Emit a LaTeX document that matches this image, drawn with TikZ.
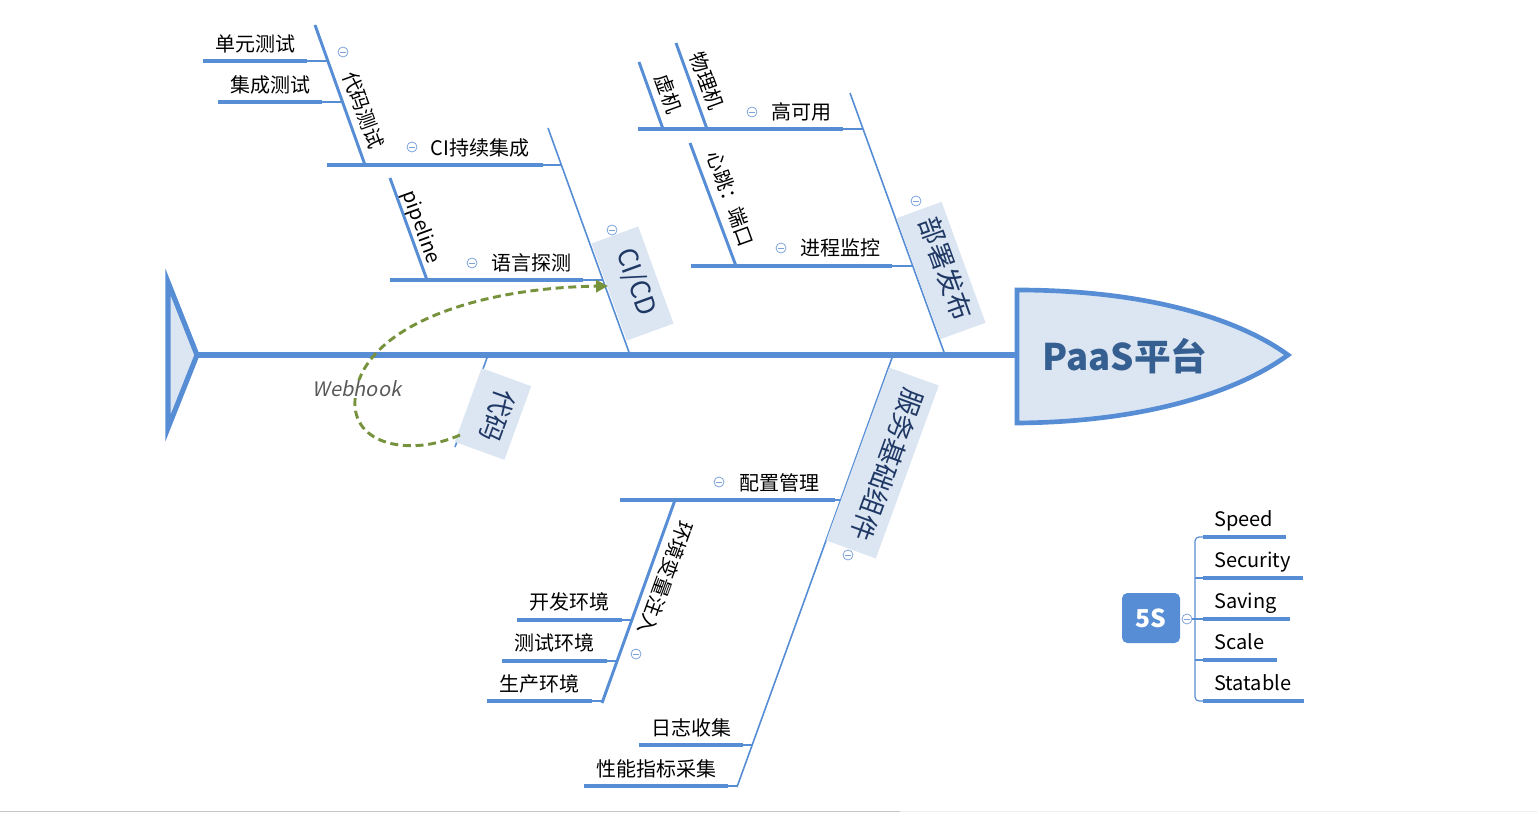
\documentclass[tikz,border=0pt]{standalone}
\usepackage{fontspec}
\setmainfont{Noto Sans CJK SC}
\newfontfamily\whfont{Noto Sans CJK SC}[FakeSlant=0.2]
\usetikzlibrary{arrows.meta}
\definecolor{bl}{RGB}{86,141,212}
\definecolor{lbl}{RGB}{220,230,242}
\definecolor{tbl}{RGB}{31,56,100}
\definecolor{cbl}{RGB}{125,162,218}
\definecolor{grn}{RGB}{118,146,60}
\definecolor{hd}{RGB}{54,95,145}
\tikzset{
  spine/.style={bl, line width=3.8pt},
  mainbone/.style={bl, line width=1.2pt},
  subbone/.style={bl, line width=2.2pt},
  itemline/.style={bl, line width=2.3pt},
  conn/.style={bl, line width=0.8pt},
  lbl/.style={font=\fontsize{15pt}{17pt}\selectfont, text=black, inner sep=0pt, text height=0.85em, text depth=0.15em},
  hlbl/.style={lbl, yshift=-2.4pt},
  catbox/.style={fill=lbl, text=tbl, font=\fontsize{20pt}{22pt}\selectfont, inner sep=0pt, text height=0.85em, text depth=0.15em},
  collapse/.style={circle, draw=cbl, line width=0.6pt, minimum size=7.5pt, inner sep=0pt,
    path picture={\draw[cbl, line width=0.6pt] ([xshift=-2pt]path picture bounding box.center) -- ([xshift=2pt]path picture bounding box.center);}},
}
\begin{document}
\begin{tikzpicture}[x=0.75pt, y=-0.75pt]
\path[use as bounding box] (0,0) rectangle (1537,813);
% bottom gray rule
\draw[black!22, line width=1.2pt] (0,811.5) -- (900,811.5);
\draw[black!7, line width=1.2pt] (900,811.5) -- (1537,811.5);

% ---------- spine ----------
\coordinate (tailtip) at (197,355);
\coordinate (headL) at (1017,355);
\draw[spine] (tailtip) -- (headL);
\draw[bl, fill=lbl, line width=3.8pt] (168,282) -- (tailtip) -- (168,428) -- cycle;
\draw[bl, fill=lbl, line width=3.5pt] (1017,290) .. controls (1150,290) and (1240,320) .. (1288,355)
   .. controls (1240,390) and (1150,422) .. (1017,423) -- cycle;
\node[text=hd, font=\fontsize{27.5pt}{30pt}\selectfont\bfseries, inner sep=0pt] (head) at (1125,356) {PaaS平台};

% ---------- main bones ----------
\coordinate (cicdS) at (630,355);  \coordinate (cicdE) at (548,128);
\coordinate (bsS) at (945,355);    \coordinate (bsE) at (850,93);
\coordinate (fwS) at (893,355);    \coordinate (fwE) at (737,787);
\coordinate (dmS) at (488,355);    \coordinate (dmE) at (455,447);
\draw[mainbone] (cicdS) -- (cicdE);
\draw[mainbone] (bsS) -- (bsE);
\draw[mainbone] (fwS) -- (fwE);
\draw[mainbone] (dmS) -- (dmE);

\node[catbox, rotate=-70, minimum width=77.5pt, minimum height=37.3pt] (cicd) at (632.5,283.5) {CI/CD};
\node[catbox, rotate=-70, minimum width=96.5pt, minimum height=36pt] (bs) at (941,270.5) {部署发布};
\node[catbox, rotate=-110, minimum width=138pt, minimum height=39.6pt] (fw) at (882.5,463) {服务基础组件};
\node[catbox, rotate=-110, minimum width=58.8pt, minimum height=39.6pt] (dm) at (493,414) {代码};

% ---------- CI/CD branch ----------
\coordinate (ciL) at (327,165); \coordinate (ciR) at (543,165); \coordinate (ciB) at (561,165);
\draw[itemline] (ciL) -- (ciR); \draw[conn] (ciR) -- (ciB);
\node[hlbl] (ci) at (480,148) {CI持续集成};
\coordinate (dcS) at (365,165); \coordinate (dcE) at (315,25);
\draw[subbone] (dcS) -- (dcE);
\node[lbl, rotate=-70] (dc) at (361,111) {代码测试};
\draw[itemline] (203,61) coordinate (u1) -- (307,61) coordinate (u2); \draw[conn] (u2) -- (327,61);
\node[hlbl] (dy) at (255,44) {单元测试};
\draw[itemline] (218,102) coordinate (j1) -- (322,102) coordinate (j2); \draw[conn] (j2) -- (342,102);
\node[hlbl] (jc) at (270,85) {集成测试};

\coordinate (yyL) at (390,280); \coordinate (yyR) at (583,280); \coordinate (yyB) at (603,280);
\draw[itemline] (yyL) -- (yyR); \draw[conn] (yyR) -- (yyB);
\node[hlbl] (yy) at (531,263) {语言探测};
\coordinate (ppS) at (427,280); \coordinate (ppE) at (390,178);
\draw[subbone] (ppS) -- (ppE);
\node[lbl, rotate=-70] (pp) at (420,228) {pipeline};

% ---------- 部署发布 branch ----------
\coordinate (gkL) at (638,129); \coordinate (gkR) at (843,129); \coordinate (gkB) at (863,129);
\draw[itemline] (gkL) -- (gkR); \draw[conn] (gkR) -- (gkB);
\node[hlbl] (gk) at (801,112) {高可用};
\coordinate (xjS) at (663,129); \coordinate (xjE) at (639,62);
\draw[subbone] (xjS) -- (xjE);
\node[lbl, rotate=-70] (xj) at (666,95) {虚机};
\coordinate (wlS) at (707,129); \coordinate (wlE) at (676,43);
\draw[subbone] (wlS) -- (wlE);
\node[lbl, rotate=-70] (wl) at (704,82) {物理机};

\coordinate (jcL) at (691,266); \coordinate (jcR) at (892,266); \coordinate (jcB) at (912,266);
\draw[itemline] (jcL) -- (jcR); \draw[conn] (jcR) -- (jcB);
\node[hlbl] (jk) at (840,248) {进程监控};
\coordinate (xtS) at (736,266); \coordinate (xtE) at (690,143);
\draw[subbone] (xtS) -- (xtE);
\node[lbl, rotate=-70] (xt) at (728,200) {心跳：端口};

% ---------- 服务基础组件 branch ----------
\coordinate (pzL) at (620,500); \coordinate (pzR) at (835,500); \coordinate (pzB) at (840.5,500);
\draw[itemline] (pzL) -- (pzR); \draw[conn] (pzR) -- (pzB);
\node[hlbl] (pz) at (779,483) {配置管理};
\coordinate (hjS) at (675,500); \coordinate (hjE) at (602,703);
\draw[subbone] (hjS) -- (hjE);
\node[lbl, rotate=-110] (hj) at (663,577) {环境变量注入};
\draw[itemline] (517,620) coordinate (k1) -- (622,620) coordinate (k2); \draw[conn] (k2) -- (632,620);
\node[hlbl] (kf) at (569,602) {开发环境};
\draw[itemline] (502,661) coordinate (c1) -- (607,661) coordinate (c2); \draw[conn] (c2) -- (617,661);
\node[hlbl] (cs) at (554,643) {测试环境};
\draw[itemline] (487,701) coordinate (s1) -- (592,701) coordinate (s2); \draw[conn] (s2) -- (603,701);
\node[hlbl] (sc) at (539,684) {生产环境};

\draw[itemline] (639,745) coordinate (r1) -- (743,745) coordinate (r2); \draw[conn] (r2) -- (751.5,745);
\node[hlbl] (rz) at (691,728) {日志收集};
\draw[itemline] (584,786) coordinate (x1) -- (728,786) coordinate (x2); \draw[conn] (x2) -- (737,786);
\node[hlbl] (xn) at (656,769) {性能指标采集};

% ---------- collapse markers ----------
\node[collapse] at (343,52) {};
\node[collapse] at (412,147) {};
\node[collapse] at (472,263) {};
\node[collapse] at (612,230) {};
\node[collapse] at (752,112) {};
\node[collapse] at (781,248) {};
\node[collapse] at (916,201) {};
\node[collapse] at (719,482) {};
\node[collapse] at (848,555) {};
\node[collapse] at (636,654) {};

% ---------- Webhook ----------
\draw[grn, line width=2.2pt, dash pattern=on 6pt off 3.5pt, -{Triangle[length=9pt,width=9pt]}]
  (460,435) .. controls (410,457) and (352,445) .. (355,400)
  .. controls (358,330) and (470,288) .. (608,286);
\node[text=black!65, fill=white, fill opacity=0.85, text opacity=1, font=\whfont\fontsize{15pt}{17pt}\selectfont, inner sep=0.5pt] (wh) at (357,389) {Webhook};

% ---------- 5S ----------
\node[fill=bl, rounded corners=4pt, minimum width=43.5pt, minimum height=37.5pt, text=white,
  font=\fontsize{18.5pt}{20pt}\selectfont\bfseries, inner sep=0pt] (fs) at (1151,618) {5S};
\node[collapse] (fsc) at (1187,619) {};
\draw[bl, line width=0.9pt, rounded corners=3pt] (1203,537) -- (1195,537) -- (1195,701) -- (1203,701);
\draw[bl, line width=0.9pt] (fsc) -- (1203,619);
\draw[bl, line width=0.9pt] (1195,578) -- (1203,578);
\draw[bl, line width=0.9pt] (1195,660) -- (1203,660);
\draw[itemline] (1203,537) -- (1286,537);
\draw[itemline] (1203,578) -- (1303,578);
\draw[itemline] (1203,619) -- (1290,619);
\draw[itemline] (1203,660) -- (1277,660);
\draw[itemline] (1203,701) -- (1304,701);
\node[hlbl, anchor=west] (sp) at (1214,519) {Speed};
\node[hlbl, anchor=west] (se) at (1214,560) {Security};
\node[hlbl, anchor=west] (sa) at (1214,601) {Saving};
\node[hlbl, anchor=west] (sl) at (1214,642) {Scale};
\node[hlbl, anchor=west] (st) at (1214,683) {Statable};
\end{tikzpicture}
\end{document}
